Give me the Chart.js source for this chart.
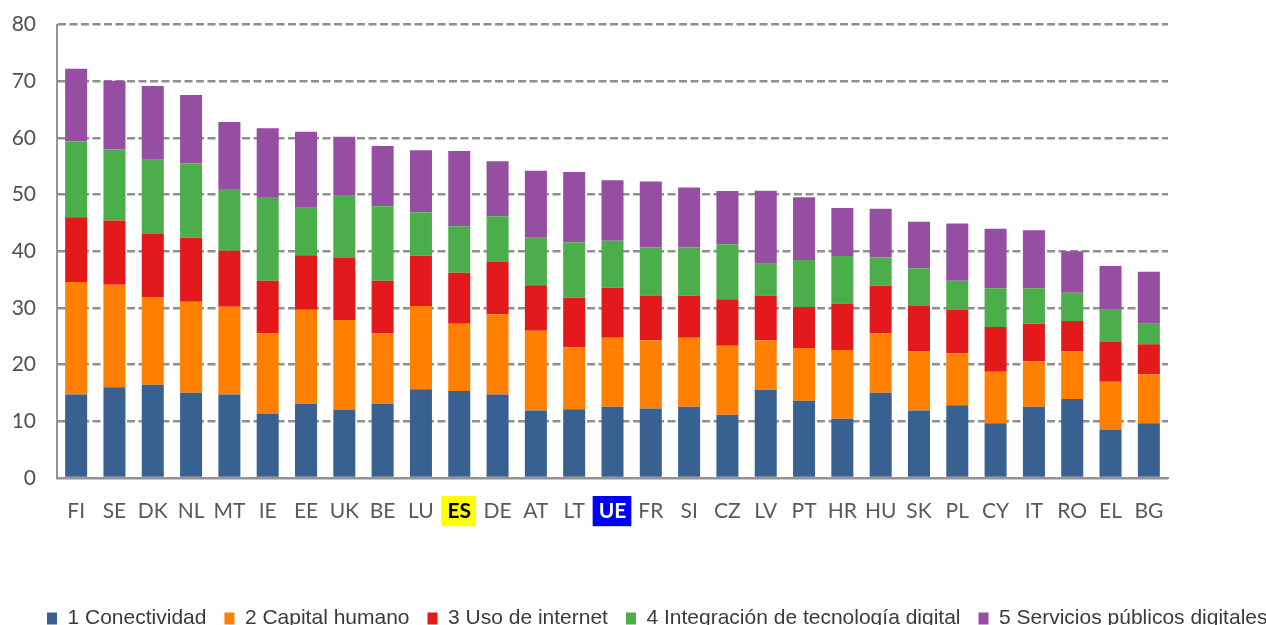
<!DOCTYPE html>
<html>
<head>
<meta charset="utf-8">
<script src="https://cdn.jsdelivr.net/npm/chart.js@4.4.1/dist/chart.umd.min.js"></script>
<style>
html,body{margin:0;padding:0;background:#fff;overflow:hidden;}
#wrap{width:1266px;height:625px;}
</style>
</head>
<body>
<div id="wrap"><canvas id="c" width="1266" height="625"></canvas></div>
<script>
const categories = ["FI","SE","DK","NL","MT","IE","EE","UK","BE","LU","ES","DE","AT","LT","UE","FR","SI","CZ","LV","PT","HR","HU","SK","PL","CY","IT","RO","EL","BG"];
const seriesNames = ["1 Conectividad","2 Capital humano","3 Uso de internet","4 Integración de tecnología digital","5 Servicios públicos digitales"];
const conectividad = [14.75,16.0,16.45,15.05,14.75,11.4,13.1,12.0,13.1,15.65,15.35,14.75,11.9,12.15,12.55,12.25,12.55,11.15,15.55,13.65,10.45,15.05,11.9,12.85,9.65,12.55,13.95,8.45,9.65];
const capitalHumano = [19.85,18.1,15.5,16.05,15.45,14.1,16.6,15.9,12.4,14.7,11.85,14.15,14.1,10.9,12.2,12.05,12.2,12.2,8.75,9.3,12.15,10.45,10.4,9.15,9.1,8.05,8.35,8.55,8.6];
const usoInternet = [11.4,11.35,11.1,11.3,9.9,9.3,9.6,10.9,9.3,8.85,9.0,9.2,8.0,8.75,8.8,7.9,7.4,8.2,7.9,7.2,8.2,8.4,8.05,7.7,7.9,6.6,5.4,7.0,5.35];
const integracion = [13.4,12.55,13.1,13.1,10.9,14.8,8.4,11.0,13.15,7.7,8.2,8.1,8.4,9.8,8.3,8.5,8.5,9.7,5.6,8.3,8.35,5.0,6.65,5.1,6.85,6.3,5.0,5.7,3.6];
const servicios = [12.8,12.1,13.0,12.1,11.8,12.1,13.4,10.4,10.65,10.95,13.3,9.7,11.8,12.4,10.7,11.6,10.6,9.4,12.9,11.1,8.5,8.6,8.2,10.1,10.5,10.2,7.3,7.7,9.2];
const yTicks = [0,10,20,30,40,50,60,70,80];

const colors = ["#386192","#ff8000","#e3191b","#4cae4b","#954ea1"];
const values = [conectividad, capitalHumano, usoInternet, integracion, servicios];

const legendShift = {
  id: 'legendShift',
  afterLayout(chart) {
    const lg = chart.legend;
    if (!lg) return;
    const p = lg.options.labels.padding;
    lg.left = 47 - p;
    lg.right = lg.left + 3000;
    lg.width = 3000;
    lg.top = 608 - p;
    lg.bottom = lg.top + 40;
  }
};

new Chart(document.getElementById('c'), {
  type: 'bar',
  data: {
    labels: categories,
    datasets: values.map((v, i) => ({
      label: seriesNames[i],
      data: v,
      backgroundColor: colors[i],
      borderWidth: 0,
      categoryPercentage: 1.0,
      barPercentage: 0.575
    }))
  },
  options: {
    responsive: false,
    devicePixelRatio: 1,
    animation: false,
    layout: { padding: { top: 0, right: 0, left: 0, bottom: 0 } },
    plugins: {
      tooltip: { enabled: false },
      legend: {
        position: 'bottom',
        align: 'start',
        labels: {
          boxWidth: 10,
          boxHeight: 12,
          padding: 18,
          color: '#3a3a3a',
          font: { family: 'Liberation Sans', size: 21 }
        }
      }
    },
    scales: {
      x: {
        stacked: true,
        grid: { display: false, drawTicks: false },
        border: { display: true, color: '#939393', width: 2 },
        ticks: {
          padding: 21,
          autoSkip: false,
          maxRotation: 0,
          color: (ctx) => categories[ctx.index] === 'ES' ? '#000000' : (categories[ctx.index] === 'UE' ? '#ffffff' : '#595959'),
          font: (ctx) => ({ family: 'Lato', size: 21, weight: (categories[ctx.index] === 'ES' || categories[ctx.index] === 'UE') ? 'bold' : 'normal' }),
          showLabelBackdrop: (ctx) => categories[ctx.index] === 'ES' || categories[ctx.index] === 'UE',
          backdropColor: (ctx) => categories[ctx.index] === 'ES' ? '#ffff00' : '#0000ff',
          backdropPadding: { left: 6, right: 5, top: 3, bottom: 2 }
        },
        afterFit(scale) { scale.height = 98; }
      },
      y: {
        stacked: true,
        min: 0,
        max: 80,
        afterBuildTicks(scale) { scale.ticks = yTicks.map(v => ({ value: v })); },
        grid: {
          drawTicks: true,
          tickLength: 9,
          tickColor: 'rgba(0,0,0,0)',
          color: '#8f8f8f',
          lineWidth: 2.5
        },
        border: {
          display: true,
          color: '#939393',
          width: 2,
          dash: (ctx) => (ctx.tick && ctx.tick.value === 0) ? [] : [8, 3.5]
        },
        ticks: {
          padding: 12,
          color: '#505050',
          font: { family: 'Lato', size: 21 }
        },
        afterFit(scale) { scale.width = 57; }
      },
      rightSpace: {
        type: 'linear',
        position: 'right',
        display: true,
        grid: { display: false, drawTicks: false },
        border: { display: false },
        ticks: { display: false },
        afterFit(scale) { scale.width = 98; }
      }
    }
  },
  plugins: [legendShift]
});
</script>
</body>
</html>
